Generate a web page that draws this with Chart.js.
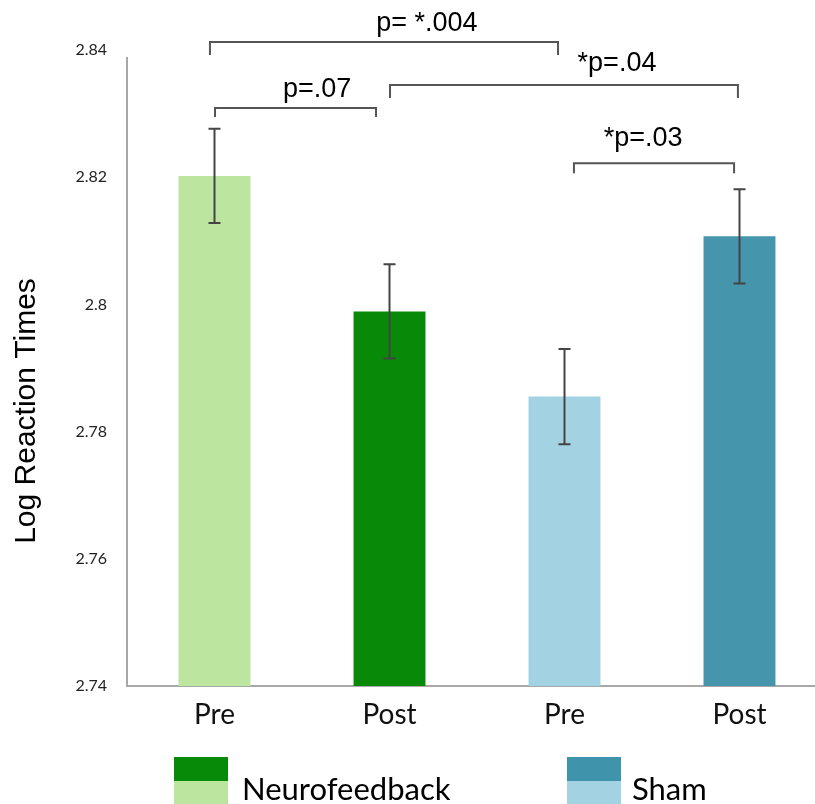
<!DOCTYPE html>
<html><head><meta charset="utf-8">
<script src="https://cdn.jsdelivr.net/npm/chart.js@4"></script>
<style>html,body{margin:0;padding:0;background:#fff;overflow:hidden;}#wrap{width:830px;height:804px;position:relative}</style>
</head><body><div id="wrap"><canvas id="c" width="830" height="804"></canvas></div>
<script>
const categories = ['Pre','Post','Pre','Post'];
const means = [2.8202, 2.7989, 2.7855, 2.8107];
const errors = [0.0074, 0.0074, 0.0075, 0.0074];
const barColors = ['#bce5a0','#088a08','#a3d2e2','#4595ac'];
const yTicks = [2.74, 2.76, 2.78, 2.8, 2.82, 2.84];
const groupNames = ['Neurofeedback','Sham'];
const groupDark = ['#078a07','#3f94ab'];
const groupLight = ['#bce5a0','#a3d3e3'];
const bracketLabels = ['p= *.004','p=.07','*p=.04','*p=.03'];
const bracketFrom = [-0.026, 0.003, 1.003, 2.054];
const bracketTo = [1.963, 0.923, 2.991, 2.969];
const bracketY = [2.84126, 2.83087, 2.83449, 2.82220];
const bracketEnd = [2.83921, 2.82945, 2.83244, 2.82063];
const labelX = [1.214, 0.586, 2.30, 2.449];
const labelY = [2.84299, 2.8326, 2.8367, 2.82488];
const axisTitle = 'Log Reaction Times';

const overlay = {
  id: 'overlay',
  afterDatasetsDraw(chart) {
    const ctx = chart.ctx, xs = chart.scales.x, ys = chart.scales.y;
    ctx.save();
    // y axis line (starts slightly below the top tick, as in the original)
    ctx.strokeStyle = '#a8a8a8';
    ctx.lineWidth = 2;
    ctx.beginPath();
    ctx.moveTo(chart.chartArea.left, chart.chartArea.top + 7);
    ctx.lineTo(chart.chartArea.left, chart.chartArea.bottom);
    ctx.stroke();
    ctx.strokeStyle = '#444';
    ctx.lineWidth = 2;
    means.forEach((m, i) => {
      const x = xs.getPixelForValue(i);
      const yt = ys.getPixelForValue(m + errors[i]);
      const yb = ys.getPixelForValue(m - errors[i]);
      ctx.beginPath();
      ctx.moveTo(x, yt); ctx.lineTo(x, yb);
      ctx.moveTo(x - 6, yt); ctx.lineTo(x + 6, yt);
      ctx.moveTo(x - 6, yb); ctx.lineTo(x + 6, yb);
      ctx.stroke();
    });
    ctx.restore();
  },
  afterDraw(chart) {
    const ctx = chart.ctx, xs = chart.scales.x, ys = chart.scales.y;
    ctx.save();
    // significance brackets
    ctx.strokeStyle = '#555';
    ctx.lineWidth = 2;
    ctx.fillStyle = '#000';
    ctx.font = '27px "Liberation Sans", Arial, sans-serif';
    ctx.textAlign = 'center';
    ctx.textBaseline = 'alphabetic';
    bracketLabels.forEach((lab, i) => {
      const x1 = xs.getPixelForValue(bracketFrom[i]);
      const x2 = xs.getPixelForValue(bracketTo[i]);
      const y = ys.getPixelForValue(bracketY[i]);
      const ye = ys.getPixelForValue(bracketEnd[i]);
      ctx.beginPath();
      ctx.moveTo(x1, ye); ctx.lineTo(x1, y); ctx.lineTo(x2, y); ctx.lineTo(x2, ye);
      ctx.stroke();
      ctx.fillText(lab, xs.getPixelForValue(labelX[i]), ys.getPixelForValue(labelY[i]));
    });
    // y axis title
    ctx.save();
    ctx.translate(35, 411);
    ctx.rotate(-Math.PI / 2);
    ctx.font = '30px "Liberation Sans", Arial, sans-serif';
    ctx.fillStyle = '#000';
    ctx.fillText(axisTitle, 0, 0);
    ctx.restore();
    // legend
    const swX = [174, 567], txX = [242, 632];
    ctx.font = '31px Lato, sans-serif';
    ctx.textAlign = 'left';
    groupNames.forEach((g, i) => {
      ctx.fillStyle = groupDark[i];
      ctx.fillRect(swX[i], 757, 54, 24);
      ctx.fillStyle = groupLight[i];
      ctx.fillRect(swX[i], 781, 54, 24);
      ctx.fillStyle = '#000';
      ctx.fillText(g, txX[i], 800);
    });
    ctx.restore();
  }
};

new Chart(document.getElementById('c'), {
  type: 'bar',
  data: {
    labels: categories,
    datasets: [{
      data: means.map(m => m),
      backgroundColor: barColors,
      borderWidth: 0,
      barPercentage: 0.411,
      categoryPercentage: 1
    }]
  },
  options: {
    responsive: false,
    animation: false,
    devicePixelRatio: 1,
    layout: { padding: { top: 50, right: 3, left: 0, bottom: 0 } },
    plugins: { legend: { display: false }, tooltip: { enabled: false } },
    scales: {
      x: {
        grid: { display: false, drawTicks: false },
        border: { display: true, color: '#a8a8a8', width: 2 },
        ticks: { color: '#111', font: { family: 'Lato', size: 28 }, padding: 12 },
        afterFit(s) { s.height = 118; }
      },
      y: {
        min: 2.74, max: 2.84,
        grid: { display: false, drawTicks: false },
        border: { display: false },
        ticks: {
          color: '#222', font: { family: 'Lato', size: 16 }, padding: 20,
          callback: v => String(+Number(v).toFixed(2))
        },
        afterBuildTicks(s) { s.ticks = yTicks.map(v => ({ value: v })); },
        afterFit(s) { s.width = 127; }
      }
    }
  },
  plugins: [overlay]
});
</script></body></html>
